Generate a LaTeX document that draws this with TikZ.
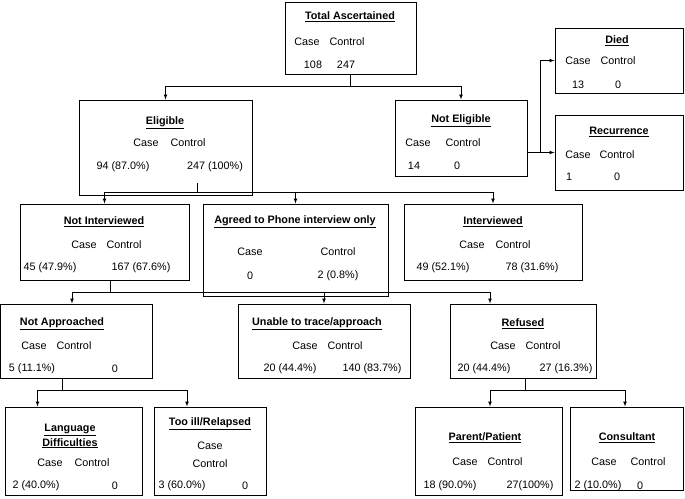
\documentclass[tikz,border=0pt]{standalone}
\usepackage{fontspec}
\setmainfont{Liberation Sans}
\begin{document}
\begin{tikzpicture}[x=1pt, y=-1pt, font=\fontsize{10.8}{12}\selectfont,
    box/.style={draw, line width=1pt, inner sep=0pt},
    ttl/.style={font=\fontsize{10.8}{15}\selectfont\bfseries, align=center},
    arr/.style={-latex, line width=0.7pt}]
    \useasboundingbox (0,0) rectangle (685,498);

    % Top
    \node[box, minimum width=131, minimum height=72] (total) at (350.5,38) {};
    \node[ttl] (totalT) at (350,17) {\underline{Total Ascertained}};
    \node (totalA) at (307,42) {Case}; \node (totalB) at (347,42) {Control};
    \node (totalC) at (313,65) {108}; \node (totalD) at (346,65) {247};

    % Second level
    \node[box, minimum width=173, minimum height=95] (elig) at (165.5,147.5) {};
    \node[ttl] (eligT) at (165,123) {\underline{Eligible}};
    \node (eligA) at (146,143) {Case}; \node (eligB) at (188,143) {Control};
    \node (eligC) at (123,167) {94 (87.0\%)}; \node (eligD) at (215,167) {247 (100\%)};

    \node[box, minimum width=132, minimum height=76] (notelig) at (461,138) {};
    \node[ttl] (noteligT) at (461,121) {\underline{Not Eligible}};
    \node (noteligA) at (418,143) {Case}; \node (noteligB) at (463,143) {Control};
    \node (noteligC) at (414,166) {14}; \node (noteligD) at (457,166) {0};

    \node[box, minimum width=128, minimum height=65] (died) at (619,60.5) {};
    \node[ttl] (diedT) at (617,41) {\underline{Died}};
    \node (diedA) at (578,61) {Case}; \node (diedB) at (618,61) {Control};
    \node (diedC) at (578,85) {13}; \node (diedD) at (618,85) {0};

    \node[box, minimum width=128, minimum height=75] (recur) at (619,152.5) {};
    \node[ttl] (recurT) at (619,132) {\underline{Recurrence}};
    \node (recurA) at (578,155) {Case}; \node (recurB) at (617,155) {Control};
    \node (recurC) at (569,177) {1}; \node (recurD) at (617,177) {0};

    % Third level
    \node[box, minimum width=169, minimum height=76] (notint) at (104.5,242) {};
    \node[ttl] (notintT) at (104,222) {\underline{Not Interviewed}};
    \node (notintA) at (84,245) {Case}; \node (notintB) at (124,245) {Control};
    \node (notintC) at (50,268) {45 (47.9\%)}; \node (notintD) at (141,268) {167 (67.6\%)};

    \node[box, minimum width=185, minimum height=92] (agreed) at (295.5,250) {};
    \node[ttl] (agreedT) at (295,222) {\underline{Agreed to Phone interview only}};
    \node (agreedA) at (250,252) {Case}; \node (agreedB) at (338,252) {Control};
    \node (agreedC) at (250,276) {0}; \node (agreedD) at (338,276) {2 (0.8\%)};

    \node[box, minimum width=178, minimum height=76] (interv) at (493,242) {};
    \node[ttl] (intervT) at (493,222) {\underline{Interviewed}};
    \node (intervA) at (472,245) {Case}; \node (intervB) at (513,245) {Control};
    \node (intervC) at (443,268) {49 (52.1\%)}; \node (intervD) at (532,268) {78 (31.6\%)};

    % Fourth level
    \node[box, minimum width=152, minimum height=74] (notappr) at (76,341) {};
    \node[ttl] (notapprT) at (62,324) {\underline{Not Approached}};
    \node (notapprA) at (34,346) {Case}; \node (notapprB) at (74,346) {Control};
    \node (notapprC) at (32,369) {5 (11.1\%)}; \node (notapprD) at (115,369) {0};

    \node[box, minimum width=172, minimum height=74] (unable) at (324,341) {};
    \node[ttl] (unableT) at (317,324) {\underline{Unable to trace/approach}};
    \node (unableA) at (305,346) {Case}; \node (unableB) at (345,346) {Control};
    \node (unableC) at (290,369) {20 (44.4\%)}; \node (unableD) at (372,369) {140 (83.7\%)};

    \node[box, minimum width=146, minimum height=74] (refused) at (523,341) {};
    \node[ttl] (refusedT) at (523,324) {\underline{Refused}};
    \node (refusedA) at (503,346) {Case}; \node (refusedB) at (543,346) {Control};
    \node (refusedC) at (484,369) {20 (44.4\%)}; \node (refusedD) at (566,369) {27 (16.3\%)};

    % Bottom
    \node[box, minimum width=137, minimum height=88] (lang) at (73.5,451) {};
    \node[ttl] (langT) at (70,436) {\underline{Language}\\\underline{Difficulties}};
    \node (langA) at (50,463) {Case}; \node (langB) at (92,463) {Control};
    \node (langC) at (36,486) {2 (40.0\%)}; \node (langD) at (115,486) {0};

    \node[box, minimum width=112, minimum height=88] (tooill) at (210,451) {};
    \node[ttl] (tooillT) at (210,424) {\underline{Too ill/Relapsed}};
    \node (tooillA) at (210,446) {Case}; \node (tooillB) at (210,464) {Control};
    \node (tooillC) at (182,486) {3 (60.0\%)}; \node (tooillD) at (245,486) {0};

    \node[box, minimum width=147, minimum height=88] (parent) at (488.5,451) {};
    \node[ttl] (parentT) at (485,438) {\underline{Parent/Patient}};
    \node (parentA) at (465,462) {Case}; \node (parentB) at (505,462) {Control};
    \node (parentC) at (450,486) {18 (90.0\%)}; \node (parentD) at (530,486) {27(100\%)};

    \node[box, minimum width=113, minimum height=83] (consult) at (626.5,448.5) {};
    \node[ttl] (consultT) at (627,438) {\underline{Consultant}};
    \node (consultA) at (604,462) {Case}; \node (consultB) at (648,462) {Control};
    \node (consultC) at (598,486) {2 (10.0\%)}; \node (consultD) at (640,486) {0};

    % Connectors
    \coordinate (j1) at (350.5,86);
    \draw (total.south) -- (j1);
    \draw[arr] (j1) -| (elig.north);
    \draw[arr] (j1) -| (notelig.north);

    \coordinate (j2) at (540,152.5);
    \draw[arr] (notelig.east |- j2) -- (recur.west);
    \draw[arr] (j2) |- (died.west);

    \coordinate (e0) at (197,183);
    \coordinate (j3) at (197,192);
    \draw (e0) -- (j3);
    \draw[arr] (j3) -| (notint.north);
    \draw[arr] (j3) -| (agreed.north);
    \draw[arr] (j3) -| (interv.north);

    \coordinate (j4) at (110,292);
    \draw (notint.south -| j4) -- (j4);
    \draw[arr] (j4) -| ([xshift=-4]notappr.north);
    \draw[arr] (j4) -| (unable.north);
    \draw[arr] (j4) -| ([xshift=-33]refused.north);

    \coordinate (j5) at (62,390);
    \draw (notappr.south -| j5) -- (j5);
    \draw[arr] (j5) -| ([xshift=-36]lang.north);
    \draw[arr] (j5) -| ([xshift=-23]tooill.north);

    \coordinate (j6) at (525,390);
    \draw (refused.south -| j6) -- (j6);
    \draw[arr] (j6) -| ([xshift=1.5]parent.north);
    \draw[arr] (j6) -| ([xshift=-1.5]consult.north);
\end{tikzpicture}
\end{document}
